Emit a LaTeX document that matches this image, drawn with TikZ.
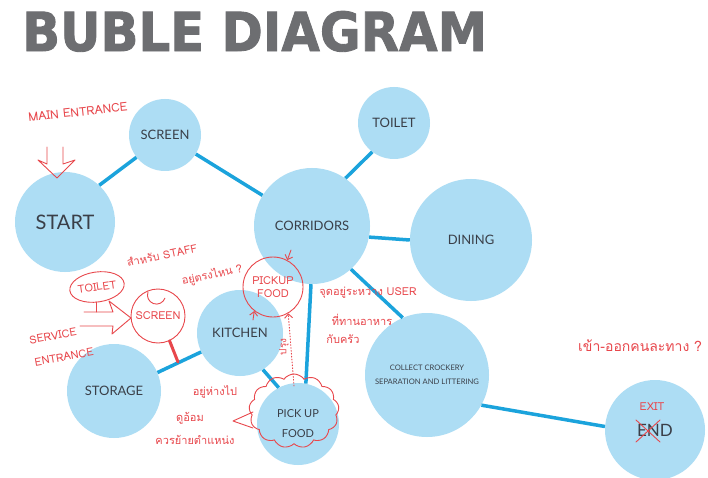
\documentclass[tikz,border=0pt]{standalone}
\usepackage{fontspec}
\usetikzlibrary{shapes.symbols,shapes.geometric,arrows.meta}
\newfontfamily\nodefont{Lato}
\newfontfamily\titlefont[BoldFeatures={FakeBold=1.6}]{DejaVu Sans}
\newfontfamily\handfont[Script=Thai]{Loma}
\definecolor{bubble}{HTML}{ADDDF4}
\definecolor{conncol}{HTML}{1BA3DC}
\definecolor{txtcol}{HTML}{3A3F48}
\definecolor{titlecol}{HTML}{6D6E71}
\definecolor{pen}{HTML}{E8474C}
\tikzset{
  bub/.style={circle, fill=bubble, inner sep=0pt, text=txtcol, font=\nodefont\fontsize{13}{15}\selectfont, align=center},
  conn/.style={draw=conncol, line width=3.5pt},
  pentext/.style={text=pen, font=\handfont\fontsize{11}{13}\selectfont, inner sep=0pt, align=center},
  penline/.style={draw=pen, line width=0.9pt, line cap=round, line join=round},
}
\begin{document}
\begin{tikzpicture}[x=1pt,y=-1pt]
\useasboundingbox (0,0) rectangle (708,478);
\fill[white] (0,0) rectangle (708,478);
% title
\node[anchor=south west, inner sep=0pt, text=titlecol] (title) at (22,52)
  {\resizebox{465pt}{40pt}{\titlefont\bfseries BUBLE DIAGRAM}};
% bubbles
\node[bub, minimum size=72pt] (screen) at (165,135) {SCREEN};
\node[bub, minimum size=100pt, font=\nodefont\fontsize{20}{22}\selectfont] (start) at (65,222) {START};
\node[bub, minimum size=72pt] (toilet) at (394,123) {TOILET};
\node[bub, minimum size=116pt] (corr) at (312,226) {CORRIDORS};
\node[bub, minimum size=122pt] (dining) at (471,240) {DINING};
\node[bub, minimum size=86pt] (kitchen) at (240,333) {KITCHEN};
\node[bub, minimum size=94pt] (storage) at (114,391) {STORAGE};
\node[bub, minimum size=82pt, font=\nodefont\fontsize{11}{20}\selectfont] (pickup) at (298,424) {PICK UP\\FOOD};
\node[bub, minimum size=124pt, font=\nodefont\fontsize{7.6}{14}\selectfont] (collect) at (427,375) {COLLECT CROCKERY\\SEPARATION AND LITTERING};
\node[bub, minimum size=100pt, font=\nodefont\fontsize{17}{19}\selectfont] (endn) at (655,430) {END};
% connectors
\draw[conn] (start.47.5) -- (screen.218);
\draw[conn] (screen) -- (corr);
\draw[conn] (corr.55.5) -- (toilet.233);
\draw[conn] (corr.-11) -- (dining.180);
\draw[conn] (corr.-48) -- (collect.113);
\draw[conn] (corr.-91) -- (pickup.79);
\draw[conn] (kitchen.-58) -- (pickup.118);
\draw[conn] (kitchen.206) -- (storage.23);
\draw[conn] (collect.-29) -- (endn.176);
% ---- red annotations ----
\node[pentext, rotate=6, font=\handfont\fontsize{12}{14}\selectfont] (mainent) at (78,112) {MAIN ENTRANCE};
\draw[penline] (47,147) -- (47,164) -- (38,160) -- (57,178) -- (75,160) -- (63,164) -- (63,147);
% toilet note
\node[pentext, draw=pen, line width=0.9pt, ellipse, minimum width=52pt, minimum height=30pt, rotate=8] (rtoilet) at (97,287) {TOILET};
\node[pentext, rotate=12] (staff1) at (162,255) {สำหรับ STAFF};
\node[pentext, rotate=12] (staff2) at (212,275) {อยู่ตรงไหน ?};
% red screen
\node[pentext, draw=pen, line width=0.9pt, circle, minimum size=54pt] (rscreen) at (158,316) {SCREEN};
\draw[penline] (148,292) arc (200:20:9);
\draw[pen, line width=3pt, line cap=round] (rscreen.-65) -- (178,362);
% service entrance arrow
\draw[penline] (96,302) -- (96,312);
\draw[penline] (84,312) -- (113,312) -- (109,301) -- (131,318) -- (112,334) -- (113,326) -- (80,326);
\node[pentext, rotate=10] (serv1) at (53,336) {SERVICE};
\node[pentext, rotate=10] (serv2) at (64,357) {ENTRANCE};
% red pickup food
\node[pentext, draw=pen, line width=0.9pt, circle, minimum size=60pt] (rpick) at (273,287) {PICKUP\\FOOD};
\coordinate (pa1) at (291,250);
\draw[penline, -{Straight Barb[length=4pt]}] (pa1) -- (rpick.62);
\coordinate (pa2) at (253,320);
\draw[penline, -{Straight Barb[length=4pt]}] (pa2) -- (rpick.-128);
\coordinate (pa3) at (294,386);
\draw[penline, dotted, -{Straight Barb[length=4pt]}] (pa3) -- (rpick.-60);
\node[pentext, rotate=90, font=\handfont\fontsize{10}{12}\selectfont] (prung) at (284,347) {ปรุง};
% centre note
\node[pentext] (mid1) at (368,293) {จุดอยู่ระหว่าง USER};
\node[pentext] (mid2) at (362,320) {ที่ทานอาหาร};
\node[pentext] (mid3) at (343,339) {กับครัว};
% cloud around pickup
\node[cloud, draw=pen, line width=0.9pt, cloud puffs=13, cloud puff arc=110, aspect=1.2, minimum width=90pt, minimum height=74pt] (cloudn) at (294,411) {};
\draw[penline] (253,412) -- (233,421) -- (253,428);
\node[pentext] (far1) at (215,392) {อยู่ห่างไป};
\node[pentext] (far2) at (190,418) {ดูอ้อม};
\node[pentext] (far3) at (195,440) {ควรย้ายตำแหน่ง};
% right note
\node[pentext, font=\handfont\fontsize{14}{16}\selectfont] (exitq) at (640,346) {เข้า-ออกคนละทาง ?};
\node[pentext] (exitt) at (652,407) {EXIT};
\draw[penline] (636,420) -- (660,442);
\draw[penline] (636,442) -- (660,420);
\end{tikzpicture}
\end{document}
